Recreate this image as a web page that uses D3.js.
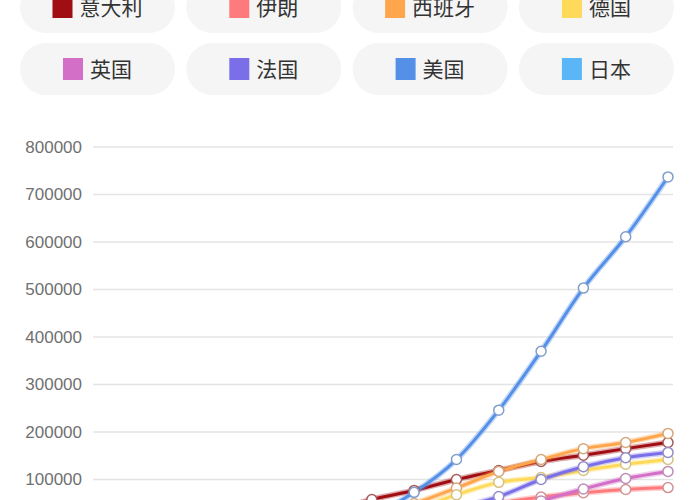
<!DOCTYPE html>
<html>
<head>
<meta charset="utf-8">
<script src="https://cdn.jsdelivr.net/npm/d3@7/dist/d3.min.js"></script>
<style>
  html, body { margin: 0; padding: 0; background: #fff; overflow: hidden; }
  svg { display: block; font-family: "Liberation Sans", "Noto Sans CJK SC", sans-serif; }
</style>
</head>
<body>
<svg class="d3" width="700" height="500"></svg>
<script>
// categories (every 4 days)
const dates = ["2/26", "3/1", "3/5", "3/9", "3/13", "3/17", "3/21", "3/25", "3/29", "4/2", "4/6", "4/10", "4/14", "4/18"];

const countries = ["意大利", "伊朗", "西班牙", "德国", "英国", "法国", "美国", "日本"];
const colors = ["#a00d12", "#ff7a7d", "#ffa64d", "#ffd95a", "#d36fc6", "#7a6fe8", "#5590e8", "#5bb6f7"];

// series values
const italy   = [450, 1700, 3900, 9200, 17700, 31500, 58000, 77000, 100000, 119000, 138000, 151000, 165000, 178000];
const iran    = [139, 978, 3500, 7200, 11400, 16200, 20600, 27000, 38300, 50500, 63000, 72000, 79000, 83000];
const spain   = [13, 84, 260, 1200, 5200, 11700, 25400, 49500, 82000, 117000, 142000, 165000, 178000, 197000];
const germany = [27, 130, 480, 1200, 3700, 9300, 22200, 37300, 68000, 94000, 104000, 119000, 132000, 142000];
const uk      = [13, 36, 115, 321, 798, 1950, 5100, 9600, 19800, 34000, 55000, 80000, 102000, 117000];
const france  = [18, 130, 423, 1209, 3661, 7700, 14500, 25600, 40700, 64000, 100000, 127000, 146000, 157000];
const usa     = [15, 30, 217, 605, 2179, 6421, 25500, 73000, 142000, 246000, 370000, 503000, 611000, 737000];
const japan   = [189, 256, 331, 511, 689, 868, 1086, 1307, 1866, 2617, 3906, 5530, 7645, 10361];

const yTicks = [0, 100000, 200000, 300000, 400000, 500000, 600000, 700000, 800000];

const seriesValues = [italy, iran, spain, germany, uk, france, usa, japan];
const series = countries.map((name, i) => ({ name: name, color: colors[i], values: seriesValues[i] }));

const svg = d3.select("svg.d3");

// legend pills, 4 per row
const pillW = 155, pillH = 52, colStep = 166.3, rowStep = 62;
const legend = svg.append("g").attr("class", "legend");
const item = legend.selectAll("g")
  .data(series)
  .enter().append("g")
  .attr("transform", (d, i) => "translate(" + (20 + (i % 4) * colStep) + "," + (7 - pillH / 2 + Math.floor(i / 4) * rowStep) + ")");

item.append("rect")
  .attr("width", pillW)
  .attr("height", pillH)
  .attr("rx", pillH / 2)
  .attr("fill", "#f5f5f5");

item.each(function (d) {
  const g = d3.select(this);
  const txt = g.append("text")
    .attr("y", pillH / 2)
    .attr("dy", "0.36em")
    .attr("font-size", 21)
    .attr("fill", "#333")
    .attr("font-family", "'Noto Sans CJK SC', sans-serif")
    .text(d.name);
  const tw = txt.node().getComputedTextLength();
  const total = 20 + 7 + tw;
  const x0 = (pillW - total) / 2;
  g.append("rect")
    .attr("x", x0)
    .attr("y", pillH / 2 - 11)
    .attr("width", 20)
    .attr("height", 22)
    .attr("fill", d.color);
  txt.attr("x", x0 + 27);
});

// scales
const margin = { left: 93, right: 27 };
const y = d3.scaleLinear().domain([0, 800000]).range([527, 147]);
const x = d3.scalePoint().domain(dates).range([118, 668]);

// grid lines + y labels
const grid = svg.append("g").attr("class", "grid");
grid.selectAll("line")
  .data(yTicks)
  .enter().append("line")
  .attr("x1", margin.left)
  .attr("x2", 700 - margin.right)
  .attr("y1", d => y(d))
  .attr("y2", d => y(d))
  .attr("stroke", "#e4e4e4")
  .attr("stroke-width", 1.5);

grid.selectAll("text")
  .data(yTicks)
  .enter().append("text")
  .attr("x", 82)
  .attr("y", d => y(d))
  .attr("dy", "0.35em")
  .attr("text-anchor", "end")
  .attr("font-size", 17)
  .attr("fill", "#707070")
  .text(d => d);

// x axis (sits below the visible area)
svg.append("g")
  .attr("transform", "translate(0," + y(0) + ")")
  .call(d3.axisBottom(x).tickSize(0))
  .call(g => g.select(".domain").remove())
  .selectAll("text").attr("fill", "#777").attr("font-size", 13);

// lines
const line = d3.line()
  .x((d, i) => x(dates[i]))
  .y(d => y(d))
  .curve(d3.curveMonotoneX);

const plot = svg.append("g").attr("class", "plot");

series.forEach(s => {
  plot.append("path")
    .datum(s.values)
    .attr("fill", "none")
    .attr("stroke", s.color)
    .attr("stroke-opacity", 0.35)
    .attr("stroke-width", 6)
    .attr("d", line);
  plot.append("path")
    .datum(s.values)
    .attr("fill", "none")
    .attr("stroke", s.color)
    .attr("stroke-width", 3)
    .attr("d", line);
});

// point markers
series.forEach(s => {
  plot.selectAll(null)
    .data(s.values)
    .enter().append("circle")
    .attr("cx", (d, i) => x(dates[i]))
    .attr("cy", d => y(d))
    .attr("r", 5)
    .attr("fill", "#fff")
    .attr("stroke", d3.interpolateRgb(s.color, "#aaa")(0.5))
    .attr("stroke-width", 1.5);
});
</script>
</body>
</html>
